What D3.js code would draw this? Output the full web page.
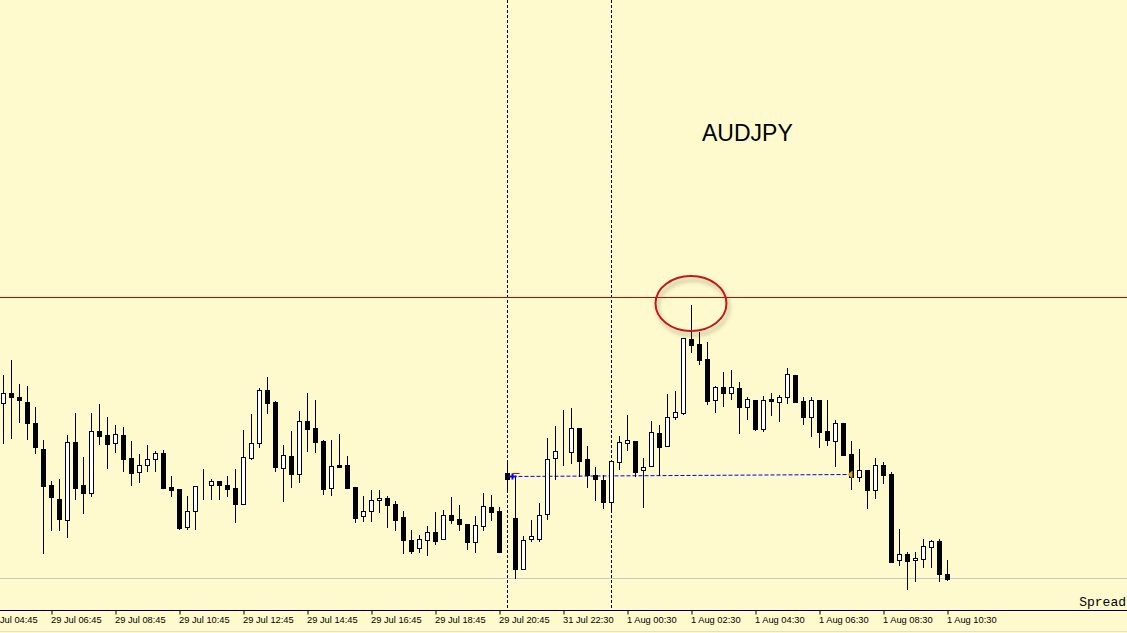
<!DOCTYPE html>
<html>
<head>
<meta charset="utf-8">
<script src="https://cdn.jsdelivr.net/npm/d3@7"></script>
<style>
  html, body { margin: 0; padding: 0; background: #fffacd; overflow: hidden; }
  svg { display: block; }
  .x.axis text { font-family: "Liberation Sans", Arial, sans-serif; font-size: 9.3px; fill: #000; }
</style>
</head>
<body>
<div id="chart"></div>
<script>
//AUDJPY M15

var width = 1127, height = 633;
var axisY = 610.5;

// bar prices, one entry per 15 min bar
var opens = [76.97,77.07,77.03,76.98,76.77,76.51,76.15,76.01,75.80,76.58,76.15,76.07,76.69,76.65,76.57,76.65,76.42,76.28,76.35,76.41,
  76.47,76.13,76.11,75.73,75.89,76.15,76.15,76.19,76.15,76.12,75.96,76.42,76.57,77.10,76.98,76.32,76.44,76.26,76.79,76.72,
  76.59,76.12,76.35,76.35,76.13,75.84,75.89,76.00,76.02,75.96,75.83,75.60,75.52,75.60,75.68,75.61,75.85,75.81,75.76,75.58,
  75.74,75.93,75.89,76.27,75.82,75.31,75.61,75.61,75.86,76.42,76.49,76.48,76.72,76.41,76.25,76.20,75.98,76.38,76.57,76.59,
  76.30,76.34,76.67,76.54,76.83,76.87,77.61,77.56,77.41,77.00,77.13,77.07,77.12,76.93,77.00,76.71,77.01,76.98,77.03,77.25,
  76.99,76.83,77.00,76.69,76.59,76.77,76.46,76.23,76.30,76.10,76.35,76.26,75.40,75.46,75.40,75.41,75.53,75.59,75.26];
var highs = [77.25,77.40,77.16,77.14,76.93,76.60,76.19,76.21,76.65,76.87,76.43,76.87,76.96,76.83,76.75,76.73,76.59,76.46,76.55,76.49,
  76.50,76.24,76.11,76.04,76.14,76.31,76.21,76.19,76.24,76.31,76.70,76.86,77.12,77.23,76.99,76.55,76.69,76.89,77.07,77.00,
  76.60,76.60,76.66,76.44,76.13,76.04,76.10,76.10,76.04,75.99,75.89,75.70,75.65,75.74,75.88,75.90,76.03,75.95,75.76,75.84,
  76.07,76.05,75.93,76.40,76.23,75.64,75.80,75.97,76.62,76.74,76.90,76.92,76.72,76.54,76.33,76.25,76.39,76.64,76.85,76.59,
  76.42,76.79,76.75,77.06,77.09,77.62,77.95,77.68,77.58,77.14,77.28,77.30,77.18,77.03,77.00,77.04,77.07,77.05,77.32,77.25,
  77.03,77.03,77.00,77.00,76.80,76.77,76.59,76.51,76.30,76.42,76.38,76.28,75.71,75.48,75.48,75.61,75.60,75.61,75.40];
var lows = [76.57,76.62,76.78,76.61,76.47,75.47,75.70,75.70,75.63,76.01,75.87,76.04,76.56,76.32,76.48,76.29,76.15,76.18,76.29,76.29,
  76.12,76.04,75.71,75.71,75.71,76.01,76.01,76.01,76.04,75.78,75.96,76.41,76.53,76.87,76.29,75.99,76.13,76.18,76.49,76.48,
  76.06,76.05,76.33,76.12,75.78,75.79,75.79,75.88,75.73,75.70,75.47,75.47,75.48,75.45,75.56,75.61,75.77,75.70,75.51,75.48,
  75.70,75.80,75.48,76.08,75.22,75.31,75.59,75.59,75.81,76.21,76.35,76.37,76.24,76.13,76.00,75.92,75.88,76.31,76.50,76.24,
  75.93,76.34,76.25,76.54,76.81,76.86,77.48,77.36,76.96,76.88,76.94,77.01,76.67,76.81,76.70,76.69,76.85,76.79,76.97,76.98,
  76.76,76.64,76.53,76.55,76.34,76.45,76.11,76.19,75.92,76.02,76.17,75.38,75.35,75.11,75.19,75.33,75.33,75.19,75.20];
var closes = [77.07,77.03,77.00,76.77,76.53,76.14,76.03,75.81,76.58,76.12,76.07,76.69,76.64,76.56,76.66,76.41,76.27,76.35,76.41,76.47,
  76.12,76.10,75.72,75.89,76.14,76.15,76.19,76.15,76.11,75.96,76.43,76.57,77.10,76.97,76.33,76.45,76.26,76.79,76.71,76.58,
  76.11,76.34,76.33,76.12,75.82,75.89,76.00,76.02,75.95,75.80,75.60,75.49,75.61,75.68,75.59,75.85,75.80,75.76,75.58,75.75,
  75.94,75.88,75.48,76.21,75.31,75.60,75.64,75.85,76.41,76.49,76.49,76.72,76.39,76.25,76.21,75.98,76.39,76.58,76.60,76.28,
  76.33,76.68,76.53,76.83,76.88,77.62,77.55,77.40,76.99,77.13,77.07,77.13,76.93,77.01,76.71,77.00,76.99,77.03,77.26,76.98,
  76.83,77.00,76.68,76.60,76.77,76.45,76.23,76.30,76.10,76.35,76.25,75.38,75.46,75.39,75.42,75.54,75.59,75.26,75.21];

// time axis
var tickBars = [-2, 6, 14, 22, 30, 38, 46, 54, 62, 70, 78, 86, 94, 102, 110, 118];
var tickLabels = ["29 Jul 04:45", "29 Jul 06:45", "29 Jul 08:45", "29 Jul 10:45", "29 Jul 12:45", "29 Jul 14:45",
  "29 Jul 16:45", "29 Jul 18:45", "29 Jul 20:45", "31 Jul 22:30", "1 Aug 00:30", "1 Aug 02:30",
  "1 Aug 04:30", "1 Aug 06:30", "1 Aug 08:30", "1 Aug 10:30"];
var separatorBars = [63, 76];

// levels and the trade
var resistance = 78.03;
var bidLine = 75.215;
var tradeOpen = {bar: 63, price: 76.24};
var tradeClose = {bar: 106, price: 76.26};
var stopMark = 76.27;

var svg = d3.select('#chart').append('svg')
  .attr('width', width)
  .attr('height', height);

var xScale = d3.scaleLinear().domain([0, 1]).range([3, 11]);
var yScale = d3.scaleLinear().domain([81, 74.67]).range([0, 633]);

function px(v) { return Math.round(v) + 0.5; }
function bx(i) { return xScale(i) + 0.5; }

var defs = svg.append('defs');
var shadow = defs.append('filter').attr('id', 'shadow')
  .attr('x', '-30%').attr('y', '-30%').attr('width', '160%').attr('height', '160%');
shadow.append('feDropShadow')
  .attr('dx', 2).attr('dy', 4).attr('stdDeviation', 2.2)
  .attr('flood-color', '#6b6b50').attr('flood-opacity', 0.55);

svg.append('rect').attr('width', width).attr('height', height).attr('fill', '#fffacd');

// period separators
svg.selectAll('line.sep')
  .data(separatorBars)
  .enter().append('line')
  .attr('class', 'sep')
  .attr('x1', function(d) { return bx(d); })
  .attr('x2', function(d) { return bx(d); })
  .attr('y1', 0).attr('y2', axisY)
  .attr('stroke', '#000').attr('stroke-width', 1)
  .attr('stroke-dasharray', '3,2');

// horizontal levels
svg.append('line')
  .attr('x1', 0).attr('x2', width)
  .attr('y1', px(yScale(resistance))).attr('y2', px(yScale(resistance)))
  .attr('stroke', '#d40000').attr('stroke-width', 1);

svg.append('line')
  .attr('x1', 0).attr('x2', width)
  .attr('y1', px(yScale(bidLine))).attr('y2', px(yScale(bidLine)))
  .attr('stroke', '#c8c8c8').attr('stroke-width', 1);

// trade line
svg.append('line')
  .attr('x1', bx(tradeOpen.bar) + 5).attr('y1', yScale(tradeOpen.price) + 0.5)
  .attr('x2', bx(tradeClose.bar)).attr('y2', yScale(tradeClose.price) + 0.5)
  .attr('stroke', '#0000ff').attr('stroke-width', 1)
  .attr('stroke-dasharray', '4,2');

// candles
var bars = d3.range(opens.length);
var g = svg.selectAll('g.candle')
  .data(bars)
  .enter()
  .append('g')
  .attr('class', 'candle');

g.append('line')
  .attr('x1', function(i) { return bx(i); })
  .attr('x2', function(i) { return bx(i); })
  .attr('y1', function(i) { return Math.round(yScale(highs[i])); })
  .attr('y2', function(i) { return Math.round(yScale(lows[i])) + 1; })
  .attr('stroke', '#000').attr('stroke-width', 1);

g.append('rect')
  .attr('x', function(i) { return bx(i) - 2; })
  .attr('width', 4)
  .attr('y', function(i) { return px(yScale(Math.max(opens[i], closes[i]))); })
  .attr('height', function(i) {
    return Math.max(0, Math.round(yScale(Math.min(opens[i], closes[i]))) - Math.round(yScale(Math.max(opens[i], closes[i]))));
  })
  .attr('fill', function(i) { return closes[i] >= opens[i] ? '#fff' : '#000'; })
  .attr('stroke', '#000').attr('stroke-width', 1);

// trade arrows
var ox = bx(tradeOpen.bar) + 5, oy = Math.round(yScale(tradeOpen.price)) + 0.5;
svg.append('path')
  .attr('d', 'M' + (ox - 4) + ',' + oy + 'H' + (ox + 4) + 'M' + ox + ',' + (oy - 3) + 'V' + (oy + 3))
  .attr('stroke', '#0000ff').attr('stroke-width', 2);
svg.append('line')
  .attr('x1', ox).attr('x2', ox + 7)
  .attr('y1', px(yScale(stopMark))).attr('y2', px(yScale(stopMark)))
  .attr('stroke', '#e00000').attr('stroke-width', 1);

var cx = bx(tradeClose.bar), cy = Math.round(yScale(tradeClose.price)) + 0.5;
svg.append('path')
  .attr('d', 'M' + (cx - 4) + ',' + cy + 'L' + (cx + 1) + ',' + (cy - 4) + 'L' + (cx + 1) + ',' + (cy + 4) + 'Z')
  .attr('fill', '#d9a21c');

// circle around the spike high
svg.append('ellipse')
  .attr('cx', bx(86) - 0.5).attr('cy', 303.5)
  .attr('rx', 35.5).attr('ry', 27.5)
  .attr('fill', 'none')
  .attr('stroke', '#c81414').attr('stroke-width', 2)
  .attr('filter', 'url(#shadow)');

// symbol
svg.append('text')
  .attr('x', 702).attr('y', 141)
  .attr('font-family', '"Liberation Sans", Arial, sans-serif')
  .attr('font-size', '23px')
  .attr('fill', '#000')
  .text('AUDJPY');

// time axis
svg.append('line')
  .attr('x1', 0).attr('x2', width)
  .attr('y1', axisY).attr('y2', axisY)
  .attr('stroke', '#000').attr('stroke-width', 1);

svg.append('g').attr('class', 'x axis')
  .attr('transform', 'translate(0.5,' + axisY + ')')
  .call(d3.axisBottom(xScale)
    .tickValues(tickBars)
    .tickSize(4)
    .tickFormat(function(d, i) { return tickLabels[i]; }))
  .call(function(a) { a.select('.domain').remove(); })
  .call(function(a) {
    a.selectAll('.tick line').attr('stroke', '#000');
    a.selectAll('.tick text').attr('text-anchor', 'start').attr('x', -1).attr('y', 6).attr('dy', '0.71em');
  });

svg.append('line')
  .attr('x1', 0).attr('x2', width)
  .attr('y1', 631.5).attr('y2', 631.5)
  .attr('stroke', '#e2e0d0').attr('stroke-width', 1);

svg.append('text')
  .attr('x', 1126).attr('y', 606)
  .attr('text-anchor', 'end')
  .attr('font-family', '"Liberation Mono", "Courier New", monospace')
  .attr('font-size', '13px')
  .attr('fill', '#000')
  .text('Spread');
</script>
</body>
</html>
